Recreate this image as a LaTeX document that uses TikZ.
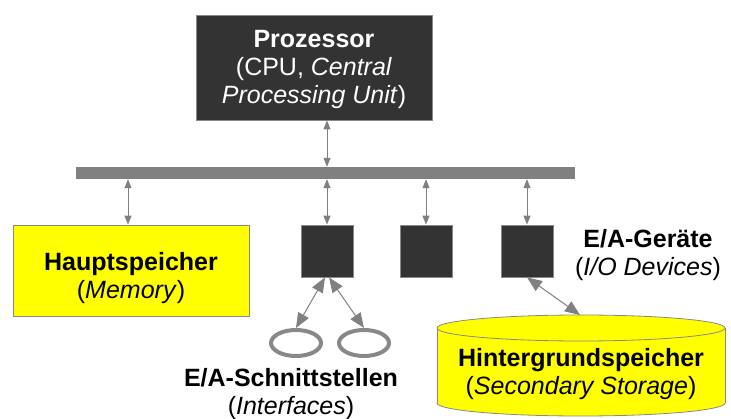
\documentclass[tikz,border=0pt]{standalone}
\usepackage{fontspec}
\setmainfont{Liberation Sans}
\usetikzlibrary{arrows.meta,shapes.geometric}
\definecolor{darkbox}{HTML}{333333}
\definecolor{lgray}{HTML}{888888}
\definecolor{busgray}{HTML}{808080}
\definecolor{yel}{HTML}{FFFF00}
\tikzset{
  txt/.style={font=\fontsize{25}{28}\selectfont, align=center, inner sep=0pt},
  darkrect/.style={draw=lgray, line width=0.8pt, fill=darkbox, inner sep=0pt},
  yelrect/.style={draw=lgray, line width=0.8pt, fill=yel, inner sep=0pt},
  ring/.style={ellipse, draw=lgray, line width=4pt, minimum width=50pt, minimum height=26pt, inner sep=0pt},
  bidir/.style={draw=busgray, line width=1pt, {Triangle[length=9pt,width=7pt]}-{Triangle[length=9pt,width=7pt]}},
  bigbidir/.style={draw=busgray, line width=1pt, {Triangle[length=15pt,width=12pt]}-{Triangle[length=15pt,width=12pt]}},
}
\begin{document}
\begin{tikzpicture}[x=1pt,y=-1pt]
\useasboundingbox (0,0) rectangle (731,419);
% processor
\node[darkrect, minimum width=236pt, minimum height=105pt] (cpu) at (314,67.5) {};
\node[txt, text=white] (cputxt) at (314,69) {\textbf{Prozessor}\\(CPU, \textit{Central}\\\textit{Processing Unit})};
% bus
\node[fill=busgray, minimum width=499pt, minimum height=12pt, inner sep=0pt] (bus) at (325.5,173) {};
% memory
\node[yelrect, minimum width=236pt, minimum height=91pt] (mem) at (131,270.5) {};
\node[txt] (memtxt) at (131,278) {\textbf{Hauptspeicher}\\(\textit{Memory})};
% squares
\node[darkrect, minimum size=52pt] (sq1) at (327,251) {};
\node[darkrect, minimum size=52pt] (sq2) at (426,251) {};
\node[darkrect, minimum size=52pt] (sq3) at (527,251) {};
% rings
\node[ring] (el1) at (296,343) {};
\node[ring] (el2) at (364,343) {};
% cylinder
\fill[yel] (437,328) rectangle (725,403);
\fill[yel] (581,403) ellipse [x radius=144pt, y radius=13pt];
\draw[lgray, line width=0.8pt] (581,403) ellipse [x radius=144pt, y radius=13pt];
\fill[yel] (437.5,380) rectangle (724.5,403);
\draw[lgray, line width=0.8pt] (437,328) -- (437,403) (725,328) -- (725,403);
\draw[lgray, line width=0.8pt, fill=yel] (581,328) ellipse [x radius=144pt, y radius=13pt];
\coordinate (cyltop) at (580,315);
\node[txt] (cyltxt) at (581,374) {\textbf{Hintergrundspeicher}\\(\textit{Secondary Storage})};
% labels
\node[txt] (devlbl) at (648,255) {\textbf{E/A-Geräte}\\(\textit{I/O Devices})};
\node[txt] (iflbl) at (291,394) {\textbf{E/A-Schnittstellen}\\(\textit{Interfaces})};
% connectors
\draw[bidir] (sq1.north |- cpu.south) -- (sq1.north |- bus.north);
\draw[bidir] ([xshift=-3pt]mem.north |- bus.south) -- ([xshift=-3pt]mem.north);
\draw[bidir] (sq1.north |- bus.south) -- (sq1.north);
\draw[bidir] (sq2.north |- bus.south) -- (sq2.north);
\draw[bidir] (sq3.north |- bus.south) -- (sq3.north);
\draw[bigbidir] ([xshift=-2pt]sq1.south) -- (el1.north);
\draw[bigbidir] ([xshift=2pt]sq1.south) -- (el2.north);
\draw[bigbidir] (sq3.south) -- (cyltop);
\end{tikzpicture}
\end{document}
